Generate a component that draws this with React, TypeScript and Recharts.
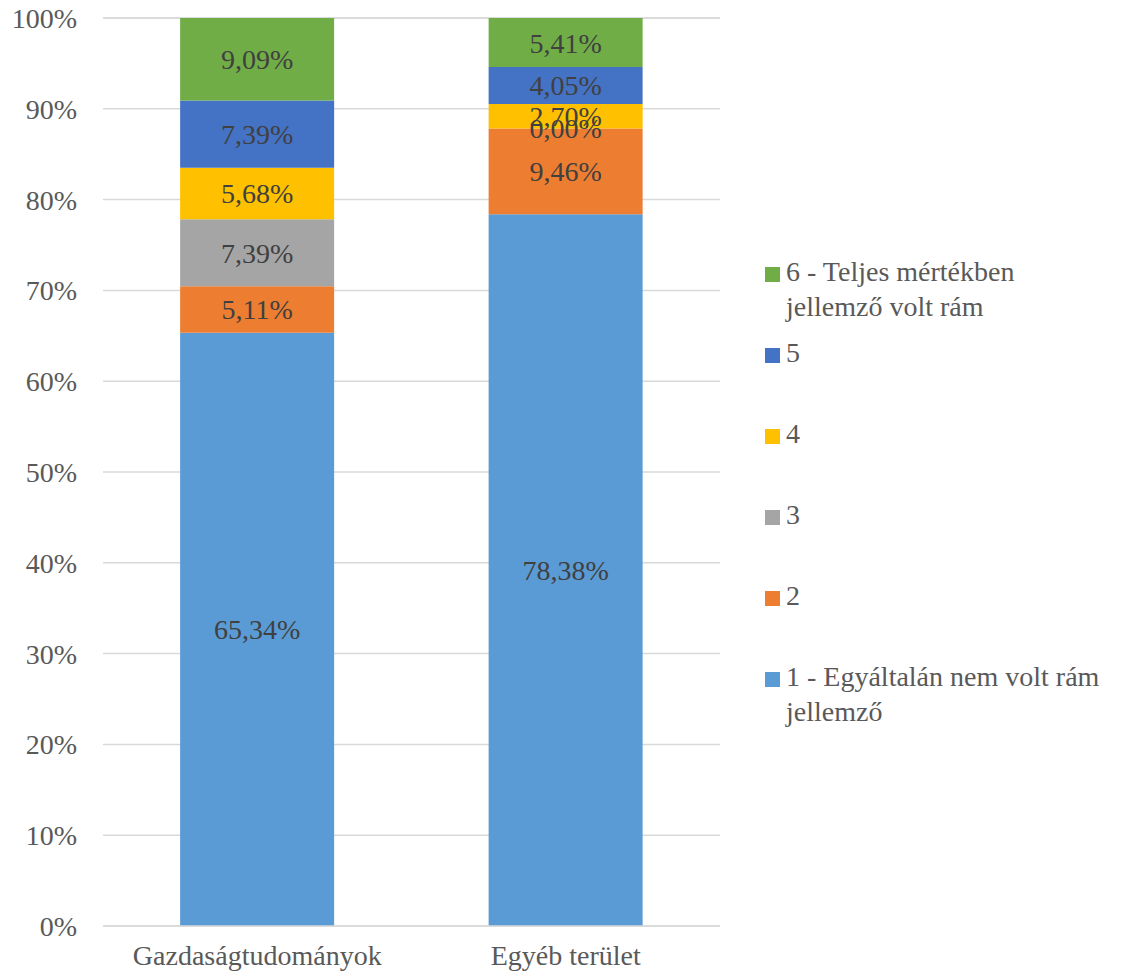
import React from 'react';
import { BarChart, Bar, XAxis, YAxis, CartesianGrid, LabelList, ReferenceDot } from 'recharts';

const categories = ['Gazdaságtudományok', 'Egyéb terület'];

const seriesKeys = ['s1', 's2', 's3', 's4', 's5', 's6'];
const seriesNames = [
  '1 - Egyáltalán nem volt rám jellemző',
  '2',
  '3',
  '4',
  '5',
  '6 - Teljes mértékben jellemző volt rám',
];
// legend lines, wrapped the way they appear beside the chart
const legendLines = [
  ['1 - Egyáltalán nem volt rám', 'jellemző'],
  ['2'],
  ['3'],
  ['4'],
  ['5'],
  ['6 - Teljes mértékben', 'jellemző volt rám'],
];
const seriesColors = ['#5B9BD5', '#ED7D31', '#A5A5A5', '#FFC000', '#4472C4', '#70AD47'];

// percentages per category, index matches seriesKeys
const gazdasagValues = [65.34, 5.11, 7.39, 5.68, 7.39, 9.09];
const egyebValues = [78.38, 9.46, 0.0, 2.7, 4.05, 5.41];

const yTicks = [0, 10, 20, 30, 40, 50, 60, 70, 80, 90, 100];

const rows = [gazdasagValues, egyebValues];
const data = categories.map((name, i) => {
  const row: Record<string, string | number> = { name };
  seriesKeys.forEach((k, j) => {
    row[k] = rows[i][j];
  });
  return row;
});

// zero-height segments get no rectangle, so their labels go on a dot at the stack top
const zeroLabels: { cat: string; y: number }[] = [];
rows.forEach((vals, i) => {
  let acc = 0;
  vals.forEach((v) => {
    if (v === 0) zeroLabels.push({ cat: categories[i], y: acc });
    acc += v;
  });
});

const FONT = "'Liberation Serif', 'Tinos', 'DejaVu Serif', serif";

const fmt = (v: any) => `${Number(v).toFixed(2).replace('.', ',')}%`;

const LegendBox = () => {
  const order = [5, 4, 3, 2, 1, 0];
  return (
    <div
      style={{
        position: 'absolute',
        left: 765,
        top: 257,
        fontFamily: FONT,
        fontSize: 28,
        color: '#595959',
      }}
    >
      {order.map((idx) => (
        <div key={idx} style={{ height: 81, display: 'flex', alignItems: 'flex-start' }}>
          <div
            style={{
              width: 15,
              height: 15,
              background: seriesColors[idx],
              marginTop: 10,
              marginRight: 6,
              flex: '0 0 auto',
            }}
          />
          <div style={{ lineHeight: '35px', whiteSpace: 'nowrap', marginTop: -3 }}>
            {legendLines[idx].map((line, li) => (
              <div key={li} style={{ height: 35 }}>{line}</div>
            ))}
          </div>
        </div>
      ))}
    </div>
  );
};

export default function App() {
  return (
    <div style={{ position: 'absolute', left: 0, top: 0, width: 1123, height: 977, background: '#fff' }}>
      <BarChart
        width={1123}
        height={977}
        data={data}
        margin={{ top: 18, right: 403, bottom: 0, left: 0 }}
        barCategoryGap="25%"
      >
        <CartesianGrid vertical={false} stroke="#d9d9d9" strokeWidth={1.5} />
        <XAxis
          dataKey="name"
          height={51}
          interval={0}
          tickLine={false}
          tickSize={0}
          tickMargin={19}
          axisLine={{ stroke: '#d9d9d9', strokeWidth: 1.5 }}
          tick={{ fill: '#595959', fontSize: 28, fontFamily: FONT }}
        />
        <YAxis
          width={103}
          domain={[0, 100]}
          ticks={yTicks}
          interval={0}
          tickLine={false}
          axisLine={false}
          tickSize={0}
          tickMargin={26}
          tickFormatter={(v) => `${v}%`}
          tick={{ fill: '#595959', fontSize: 28, fontFamily: FONT }}
        />
        {seriesKeys.map((k, i) => (
          <Bar
            key={k}
            dataKey={k}
            name={seriesNames[i]}
            stackId="a"
            fill={seriesColors[i]}
            isAnimationActive={false}
          >
            <LabelList
              dataKey={k}
              position="center"
              formatter={fmt}
              fill="#404040"
              fontSize={28}
              fontFamily={FONT}
            />
          </Bar>
        ))}
        {zeroLabels.map((z, i) => (
          <ReferenceDot
            key={i}
            x={z.cat}
            y={z.y}
            r={0}
            fill="none"
            stroke="none"
            label={{ value: fmt(0), position: 'center', fill: '#404040', fontSize: 28, fontFamily: FONT }}
          />
        ))}
      </BarChart>
      <LegendBox />
    </div>
  );
}
